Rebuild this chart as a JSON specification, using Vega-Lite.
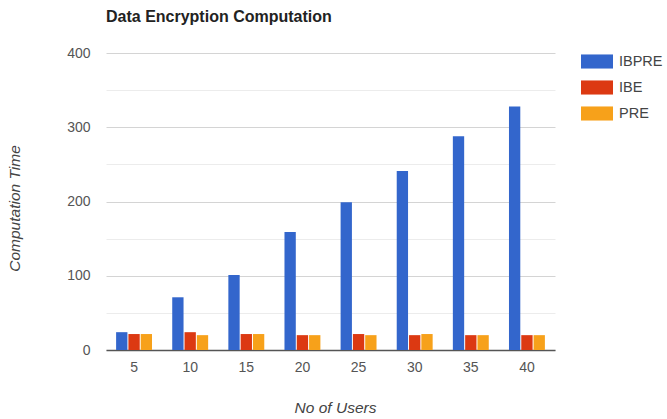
{
  "$schema": "https://vega.github.io/schema/vega-lite/v6.json",
  "width": 449,
  "height": 297,
  "autosize": {"type": "none"},
  "padding": {"left": 106, "top": 53, "right": 112, "bottom": 69},
  "background": "white",
  "title": {
    "text": "Data Encryption Computation",
    "anchor": "start",
    "frame": "group",
    "fontSize": 16,
    "fontWeight": "bold",
    "font": "Liberation Sans",
    "color": "#222222",
    "offset": 21
  },
  "data": {
    "values": [
      {"users": 5, "scheme": "IBPRE", "time": 24},
      {"users": 5, "scheme": "IBE", "time": 21.5},
      {"users": 5, "scheme": "PRE", "time": 21.5},
      {"users": 10, "scheme": "IBPRE", "time": 71},
      {"users": 10, "scheme": "IBE", "time": 24},
      {"users": 10, "scheme": "PRE", "time": 20},
      {"users": 15, "scheme": "IBPRE", "time": 101},
      {"users": 15, "scheme": "IBE", "time": 21.5},
      {"users": 15, "scheme": "PRE", "time": 21.5},
      {"users": 20, "scheme": "IBPRE", "time": 159},
      {"users": 20, "scheme": "IBE", "time": 20},
      {"users": 20, "scheme": "PRE", "time": 20},
      {"users": 25, "scheme": "IBPRE", "time": 199},
      {"users": 25, "scheme": "IBE", "time": 21.5},
      {"users": 25, "scheme": "PRE", "time": 20},
      {"users": 30, "scheme": "IBPRE", "time": 241},
      {"users": 30, "scheme": "IBE", "time": 20},
      {"users": 30, "scheme": "PRE", "time": 21.5},
      {"users": 35, "scheme": "IBPRE", "time": 288},
      {"users": 35, "scheme": "IBE", "time": 20},
      {"users": 35, "scheme": "PRE", "time": 20},
      {"users": 40, "scheme": "IBPRE", "time": 328},
      {"users": 40, "scheme": "IBE", "time": 20},
      {"users": 40, "scheme": "PRE", "time": 20}
    ]
  },
  "mark": {"type": "bar"},
  "encoding": {
    "x": {
      "field": "users",
      "type": "ordinal",
      "scale": {"paddingInner": 0.36, "paddingOuter": 0.18},
      "axis": {
        "title": "No of Users",
        "labelAngle": 0,
        "labelFontSize": 14,
        "labelColor": "#555555",
        "labelPadding": 10,
        "ticks": false,
        "domainColor": "#555555",
        "domainWidth": 1.5,
        "titleFontSize": 15.5,
        "titleFontStyle": "italic",
        "titleFontWeight": "normal",
        "titleColor": "#444444",
        "titlePadding": 26,
        "titleX": 229
      }
    },
    "xOffset": {
      "field": "scheme",
      "type": "nominal",
      "sort": ["IBPRE", "IBE", "PRE"],
      "scale": {"paddingInner": 0.08}
    },
    "y": {
      "field": "time",
      "type": "quantitative",
      "scale": {"domain": [0, 400], "nice": false},
      "axis": {
        "title": "Computation Time",
        "values": [0, 50, 100, 150, 200, 250, 300, 350, 400],
        "labelExpr": "datum.value % 100 === 0 ? datum.label : ''",
        "labelFontSize": 14,
        "labelColor": "#555555",
        "labelPadding": 16,
        "ticks": false,
        "domain": false,
        "gridColor": {"condition": {"test": "datum.value % 100 === 0", "value": "#d4d4d4"}, "value": "#ececec"},
        "titleFontSize": 15.5,
        "titleFontStyle": "italic",
        "titleFontWeight": "normal",
        "titleColor": "#444444",
        "titlePadding": 44,
        "titleY": 155
      }
    },
    "color": {
      "field": "scheme",
      "type": "nominal",
      "sort": ["IBPRE", "IBE", "PRE"],
      "scale": {"domain": ["IBPRE", "IBE", "PRE"], "range": ["#3366cc", "#dc3912", "#f7a11a"]},
      "legend": {
        "title": null,
        "orient": "none",
        "legendX": 475,
        "legendY": -7.5,
        "symbolType": "M-1,-0.44H1V0.44H-1Z",
        "symbolSize": 1024,
        "symbolStrokeWidth": 0,
        "symbolOpacity": 1,
        "labelFontSize": 14.5,
        "labelColor": "#444444",
        "labelOffset": 6,
        "rowPadding": 2
      }
    }
  },
  "config": {
    "font": "Liberation Sans",
    "view": {"stroke": null}
  }
}
